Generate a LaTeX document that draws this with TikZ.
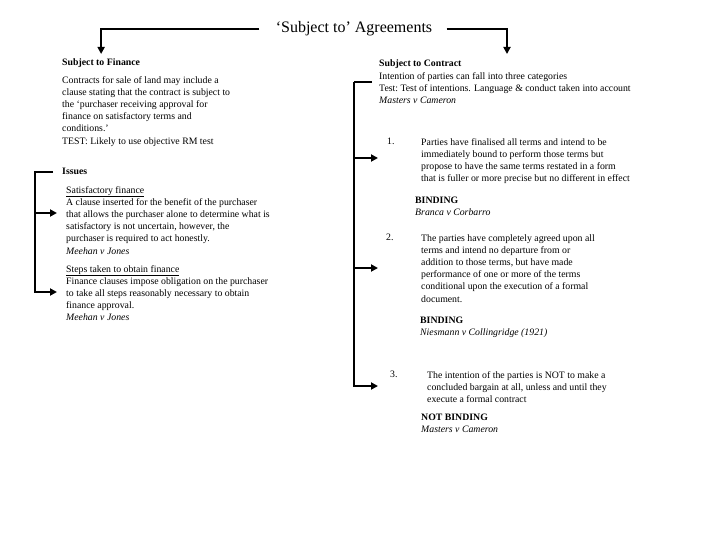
\documentclass[tikz,border=0pt]{standalone}
\usepackage{fontspec}
\setmainfont{Liberation Serif}
\usetikzlibrary{arrows.meta}

\begin{document}
\begin{tikzpicture}[x=1pt, y=-1pt,
  txt/.style={anchor=north west, inner sep=0pt, align=left, font=\fontsize{9.8}{12.2}\selectfont},
  bar/.style={line width=1.8pt},
  tip/.style={bar, -{Triangle[length=7pt, width=7pt]}}]
  \useasboundingbox (0,0) rectangle (720,540);
  \node[font=\fontsize{16}{18}\selectfont] (title) at (354,29) {‘Subject to’ Agreements};
  % subject to finance
  \node[txt] (fin) at (62,59) {\textbf{Subject to Finance}};
  \node[txt] (finpar) at (62,76) {Contracts for sale of land may include a\\
    clause stating that the contract is subject to\\
    the ‘purchaser receiving approval for\\
    finance on satisfactory terms and\\
    conditions.’\\
    TEST: Likely to use objective RM test};
  \node[txt] (iss) at (62,168) {\textbf{Issues}};
  \node[txt] (satis) at (66,186) {\underline{Satisfactory finance}\\
    A clause inserted for the benefit of the purchaser\\
    that allows the purchaser alone to determine what is\\
    satisfactory is not uncertain, however, the\\
    purchaser is required to act honestly.\\
    \textit{Meehan v Jones}};
  \node[txt] (steps) at (66,265) {\underline{Steps taken to obtain finance}\\
    Finance clauses impose obligation on the purchaser\\
    to take all steps reasonably necessary to obtain\\
    finance approval.\\
    \textit{Meehan v Jones}};
  % subject to contract
  \node[txt] (con) at (379,60) {\textbf{Subject to Contract}\\
    Intention of parties can fall into three categories\\
    Test:\ Test of intentions. Language \& conduct taken into account\\
    \textit{Masters v Cameron}};
  \node[txt] (n1) at (387,138) {1.};
  \node[txt] (c1) at (421,138) {Parties have finalised all terms and intend to be\\
    immediately bound to perform those terms but\\
    propose to have the same terms restated in a form\\
    that is fuller or more precise but no different in effect};
  \node[txt] (b1) at (415,197) {\textbf{BINDING}\\ \textit{Branca v Corbarro}};
  \node[txt] (n2) at (386,234) {2.};
  \node[txt] (c2) at (421,234) {The parties have completely agreed upon all\\
    terms and intend no departure from or\\
    addition to those terms, but have made\\
    performance of one or more of the terms\\
    conditional upon the execution of a formal\\
    document.};
  \node[txt] (b2) at (420,317) {\textbf{BINDING}\\ \textit{Niesmann v Collingridge (1921)}};
  \node[txt] (n3) at (390,371) {3.};
  \node[txt] (c3) at (427,371) {The intention of the parties is NOT to make a\\
    concluded bargain at all, unless and until they\\
    execute a formal contract};
  \node[txt] (b3) at (421,414) {\textbf{NOT BINDING}\\ \textit{Masters v Cameron}};

  % connectors
  \coordinate (ctop) at (507,54);
  \draw[tip] ([xshift=-13pt]title.west) -| ([yshift=5pt]fin.north);
  \draw[tip] ([xshift=11pt]title.east) -| (ctop);
  \coordinate (lcorner) at (35,172);
  \coordinate (s1) at (57,213);
  \coordinate (s2) at (57,292);
  \draw[tip] ([xshift=-9pt]iss.west |- lcorner) -- (lcorner) |- (s2);
  \draw[tip] (s1 -| lcorner) -- (s1);
  \coordinate (rcorner) at (354,82);
  \draw[bar] (372,82) -- (rcorner);
  \coordinate (a1) at (378,158);
  \coordinate (a2) at (378,268);
  \coordinate (a3) at (378,386);
  \draw[tip] (rcorner) |- (a3);
  \foreach \a in {a1,a2} \draw[tip] (\a -| rcorner) -- (\a);
\end{tikzpicture}
\end{document}
